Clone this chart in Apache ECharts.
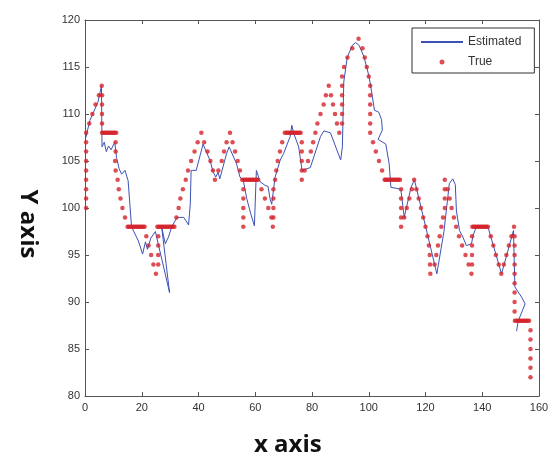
<!DOCTYPE html>
<html>
<head>
<meta charset="utf-8">
<script src="https://cdn.jsdelivr.net/npm/echarts@6/dist/echarts.min.js"></script>
<style>
  html, body { margin: 0; padding: 0; background: #fff; }
  #chart { width: 558px; height: 455px; }
</style>
</head>
<body>
<div id="chart"></div>
<script>
// true path, read dot by dot
const trueX = [
  0.4, 0.4, 0.4, 0.4, 0.4, 0.4, 0.4, 0.4, 0.4,
  1.5, 2.6, 3.7, 4.9, 5.9,
  6.0, 6.0, 6.0, 6.0, 6.0,
  6.5, 7, 7.5, 8, 8.5, 9, 9.5, 10, 10.5, 11,
  10.8, 10.8, 10.6, 10.8, 11.5, 11.9, 12.5, 13.2, 14.1, 15.0,
  15.5, 16, 16.5, 17, 17.5, 18, 18.5, 19, 19.5, 20, 20.5, 21,
  21.6, 22.4, 23.3, 24.1, 25.0,
  25.8, 25.8, 25.8, 25.8,
  25.5, 26, 26.5, 27, 27.5, 28, 28.5, 29, 29.5, 30, 30.5, 31, 31.5,
  32.2, 33.0, 33.6, 34.5, 35.5, 36.3, 37.4, 38.6, 39.7, 41.0,
  42.0, 43.2, 44.2, 45.1, 45.8,
  47.0, 48.2, 49.0, 49.9, 51.1,
  52.0, 52.9, 53.8, 54.6, 55.4,
  55.8, 55.8, 55.8, 55.8, 55.8,
  56, 56.5, 57, 57.5, 58, 58.5, 59, 59.5, 60, 60.5, 61,
  62.2, 63.4, 64.6, 65.7, 66.2,
  66.4, 66.4, 66.4, 66.4,
  67.0, 67.4, 67.9, 68.7, 69.5, 70.4,
  71, 71.5, 72, 72.5, 73, 73.5, 74, 74.5, 75, 75.5, 76,
  76.4, 76.4, 76.4, 76.4, 76.4,
  77.4, 78.6, 79.6, 80.4, 81.2, 81.9, 83.0, 84.1, 84.9, 85.9,
  86.7, 87.4, 88.1, 88.8, 89.6,
  90.6, 90.6, 90.6, 90.6, 90.6, 90.6,
  91.3, 92.5, 94.2, 96.4,
  97.8, 98.6, 99.3, 100.0,
  100.5, 100.5, 100.5, 100.5, 100.5, 100.5,
  101.5, 102.5, 103.6, 104.7, 105.6,
  106, 106.5, 107, 107.5, 108, 108.5, 109, 109.5, 110, 110.5, 111,
  111.4, 111.4, 111.4, 111.4, 111.4,
  112.5, 113.4, 114.3, 115.2, 116.0,
  116.8, 117.6, 118.4, 119.2, 120.0, 120.7, 121.2, 121.5, 121.6, 121.7,
  123.2, 123.8, 124.4, 125.0, 125.6, 126.2,
  126.8, 126.8, 126.8, 126.8,
  127.8, 128.5, 129.2, 130.0, 130.8, 131.8, 132.9, 134.1, 135.2, 136.2,
  136.4, 136.4, 136.4, 136.4,
  136.5, 137, 137.5, 138, 138.5, 139, 139.5, 140, 140.5, 141, 141.5, 142,
  143.0, 143.9, 144.8, 145.8, 146.7,
  147.6, 148.5, 149.4, 150.3, 151.2,
  151.4, 151.4, 151.4, 151.4, 151.4, 151.4, 151.4, 151.4, 151.4,
  151.5, 152, 152.5, 153, 153.5, 154, 154.5, 155, 155.5, 156, 156.5,
  157, 157, 157, 157, 157, 157
];
const trueY = [
  100, 101, 102, 103, 104, 105, 106, 107, 108,
  109, 110, 111, 112, 113,
  112, 111, 110, 109, 108,
  108, 108, 108, 108, 108, 108, 108, 108, 108, 108,
  107, 106, 105, 104, 103, 102, 101, 100, 99, 98,
  98, 98, 98, 98, 98, 98, 98, 98, 98, 98, 98, 98,
  97, 96, 95, 94, 93,
  94, 95, 96, 97,
  98, 98, 98, 98, 98, 98, 98, 98, 98, 98, 98, 98, 98,
  99, 100, 101, 102, 103, 104, 105, 106, 107, 108,
  107, 106, 105, 104, 103,
  104, 105, 106, 107, 108,
  107, 106, 105, 104, 103,
  102, 101, 100, 99, 98,
  103, 103, 103, 103, 103, 103, 103, 103, 103, 103, 103,
  102, 101, 100, 99, 98,
  99, 100, 101, 102,
  103, 104, 105, 106, 107, 108,
  108, 108, 108, 108, 108, 108, 108, 108, 108, 108, 108,
  107, 106, 105, 104, 103,
  104, 105, 106, 107, 108, 109, 110, 111, 112, 113,
  112, 111, 110, 109, 108,
  109, 110, 111, 112, 113, 114,
  115, 116, 117, 118,
  117, 116, 115, 114,
  113, 112, 111, 110, 109, 108,
  107, 106, 105, 104, 103,
  103, 103, 103, 103, 103, 103, 103, 103, 103, 103, 103,
  102, 101, 100, 99, 98,
  99, 100, 101, 102, 103,
  102, 101, 100, 99, 98, 97, 96, 95, 94, 93,
  94, 95, 96, 97, 98, 99,
  100, 101, 102, 103,
  102, 101, 100, 99, 98, 97, 96, 95, 94, 93,
  94, 95, 96, 97,
  98, 98, 98, 98, 98, 98, 98, 98, 98, 98, 98, 98,
  97, 96, 95, 94, 93,
  94, 95, 96, 97, 98,
  97, 96, 95, 94, 93, 92, 91, 90, 89,
  88, 88, 88, 88, 88, 88, 88, 88, 88, 88, 88,
  87, 86, 85, 84, 83, 82
];

// estimated track
const estX = [
  0.3, 1.7, 3.0, 4.6, 5.8, 6.0, 6.8, 7.5, 8.3, 9.2, 10.5, 11.1, 12.0, 12.9, 14.1, 15.2,
  16.4, 18.8, 20.3, 21.3, 22.0, 23.2, 24.8, 29.8, 27.0, 28.3, 29.4, 30.6, 32.4, 34.8,
  36.5, 37.1, 37.4, 39.2, 41.6, 44.0, 45.2, 46.1, 46.9, 47.5, 49.9, 50.8, 53.4, 54.6,
  55.8, 57.0, 58.5, 59.7, 60.4, 61.7, 63.5, 64.5, 65.2, 65.8, 67.0, 68.8, 70.0, 72.3,
  72.9, 73.5, 75.3, 76.5, 79.4, 83.0, 84.2, 86.5, 90.1, 90.7, 91.2, 92.4, 94.2, 95.4,
  96.6, 98.3, 100.1, 101.3, 102.0, 103.5, 104.5, 104.8, 103.3, 106.0, 107.2, 107.8,
  111.3, 112.5, 114.9, 116.1, 118.4, 124.0, 126.5, 128.4, 129.6, 130.5, 130.9, 132.0,
  133.2, 134.4, 136.2, 136.8, 137.9, 142.0, 146.8, 151.0, 151.5, 153.9, 155.1, 152.7, 152.1
];
const estY = [
  107.5, 109.3, 110.2, 111.3, 113.0, 106.5, 107.0, 106.0, 106.6, 106.2, 107.0, 105.4, 104.2, 103.6, 104.0, 102.9,
  98.0, 96.5, 95.1, 96.4, 95.6, 96.8, 97.5, 91.0, 98.0, 96.2, 96.9, 98.0, 99.0, 99.0,
  98.2, 100.4, 104.0, 104.0, 106.8, 105.1, 103.8, 103.3, 103.8, 103.1, 105.8, 106.5, 104.7, 103.3,
  102.9, 101.0, 99.3, 98.1, 104.0, 102.8, 102.4, 102.3, 101.0, 100.4, 103.3, 105.1, 105.8, 107.6,
  108.8, 108.0, 106.5, 104.0, 104.3, 107.6, 108.2, 108.0, 105.1, 106.5, 113.4, 116.0, 117.3, 117.6,
  117.3, 116.1, 114.0, 111.8, 110.4, 110.2, 109.4, 108.3, 107.3, 106.8, 104.7, 102.2,
  102.0, 99.0, 102.2, 103.0, 100.1, 93.0, 97.5, 102.6, 103.1, 102.5, 99.7, 97.6,
  96.9, 96.0, 96.2, 97.1, 98.0, 98.0, 93.0, 97.6, 91.6, 90.5, 89.8, 88.0, 86.9
];

const trueData = trueX.map((x, i) => [x, trueY[i]]);
const estData = estX.map((x, i) => [x, estY[i]]);

const axisColor = '#555';
const labelFont = { color: '#333', fontSize: 11, fontFamily: 'Liberation Sans' };

let myChart = echarts.init(document.getElementById('chart'));
myChart.setOption({
  animation: false,
  backgroundColor: '#fff',
  grid: { left: 85, right: 19, top: 20, bottom: 59 },
  legend: {
    orient: 'vertical',
    left: 412,
    top: 28,
    itemWidth: 42,
    itemHeight: 5,
    itemGap: 8,
    padding: [8, 13, 5, 8],
    borderColor: '#333',
    borderWidth: 1,
    backgroundColor: '#fff',
    textStyle: { color: '#333', fontSize: 12, fontFamily: 'Liberation Sans' },
    data: [
      { name: 'Estimated', itemStyle: { opacity: 0 } },
      { name: 'True' }
    ]
  },
  xAxis: [{
    type: 'value', min: 0, max: 160, interval: 20,
    axisLine: { onZero: false, lineStyle: { color: axisColor } },
    axisTick: { inside: true, length: 4, lineStyle: { color: axisColor } },
    axisLabel: Object.assign({ margin: 6 }, labelFont),
    splitLine: { show: false }
  }, {
    type: 'value', position: 'top', min: 0, max: 160, interval: 20,
    axisLine: { onZero: false, lineStyle: { color: axisColor } },
    axisTick: { inside: true, length: 4, lineStyle: { color: axisColor } },
    axisLabel: { show: false },
    splitLine: { show: false }
  }],
  yAxis: [{
    type: 'value', min: 80, max: 120, interval: 5,
    axisLine: { show: true, onZero: false, lineStyle: { color: axisColor } },
    axisTick: { show: true, inside: true, length: 4, lineStyle: { color: axisColor } },
    axisLabel: Object.assign({ margin: 5 }, labelFont),
    splitLine: { show: false }
  }, {
    type: 'value', position: 'right', min: 80, max: 120, interval: 5,
    axisLine: { show: true, onZero: false, lineStyle: { color: axisColor } },
    axisTick: { show: true, inside: true, length: 4, lineStyle: { color: axisColor } },
    axisLabel: { show: false },
    splitLine: { show: false }
  }],
  graphic: [{
    type: 'text',
    left: 254, top: 433,
    style: { text: 'x axis', fill: '#111', font: 'bold 24px "Open Sans"' }
  }, {
    type: 'text',
    x: 28, y: 224,
    rotation: -Math.PI / 2,
    style: { text: 'Y axis', fill: '#111', font: 'bold 24px "Open Sans"', align: 'center', verticalAlign: 'middle' }
  }],
  series: [{
    name: 'Estimated',
    type: 'line',
    data: estData,
    symbol: 'none',
    lineStyle: { color: '#3d52b5', width: 1 },
    itemStyle: { color: '#3d52b5' },
    z: 2
  }, {
    name: 'True',
    type: 'scatter',
    data: trueData,
    symbolSize: 4.5,
    itemStyle: { color: '#d4232b' },
    z: 3
  }]
});
</script>
</body>
</html>
